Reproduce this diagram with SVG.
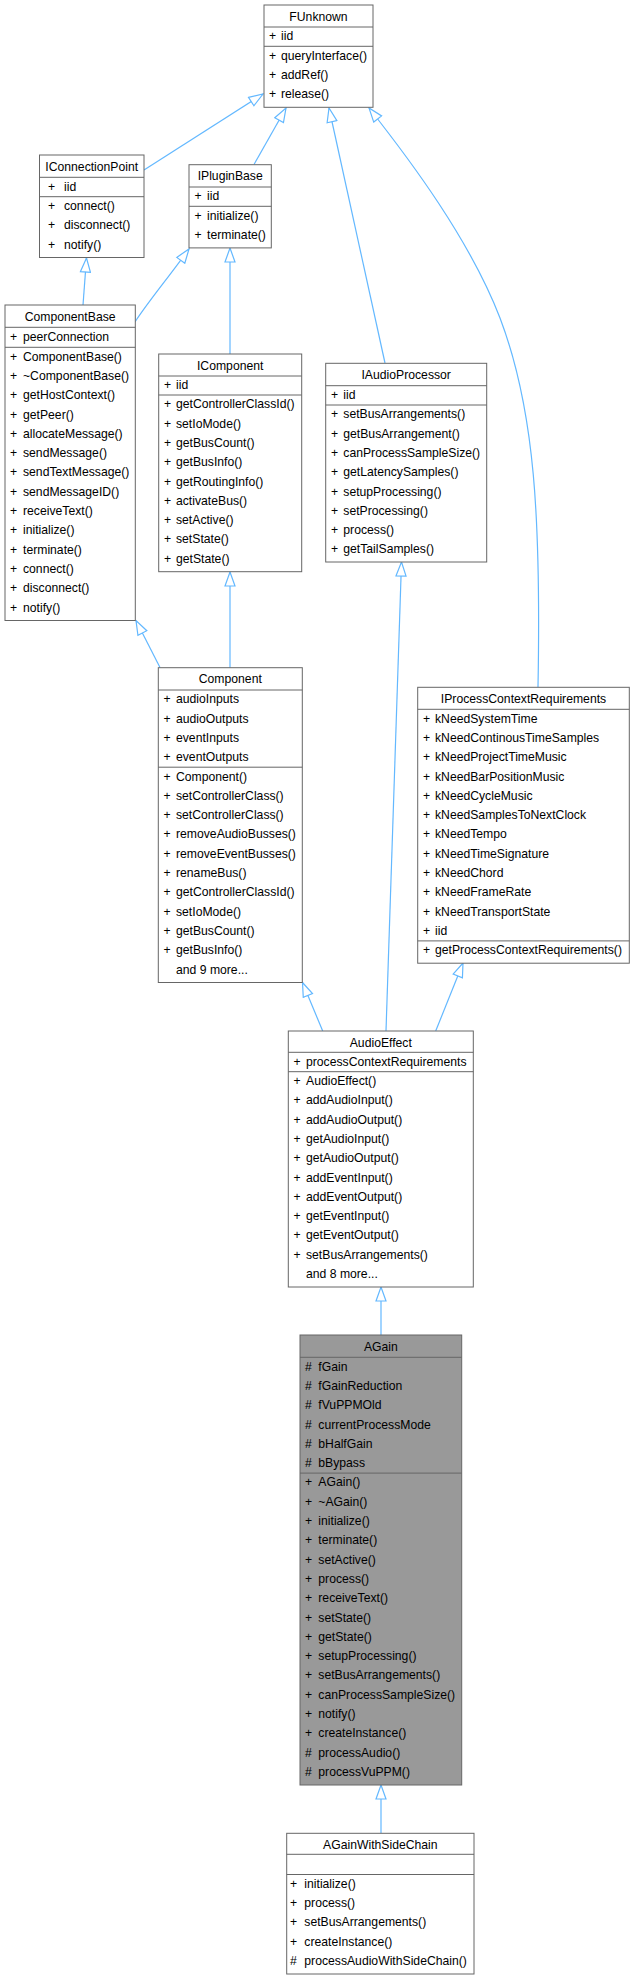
<svg xmlns="http://www.w3.org/2000/svg" width="635" height="1979" viewBox="0 0 635 1979">
<style>
.box{fill:#ffffff;stroke:#666666;stroke-width:1}
.cur{fill:#999999;stroke:#666666;stroke-width:1}
.sep{stroke:#666666;stroke-width:1}
text{font-family:"Liberation Sans",Arial,Helvetica,sans-serif;font-size:12.2px;fill:#000000}
.t{text-anchor:middle}
.edge{fill:none;stroke:#63b8ff;stroke-width:1.2}
</style>
<defs>
<marker id="inh" markerUnits="userSpaceOnUse" markerWidth="16" markerHeight="12" viewBox="0 0 16 12" refX="15" refY="6" orient="auto">
<path d="M1,1 L15,6 L1,11 z" fill="#ffffff" stroke="#63b8ff" stroke-width="1.2"/>
</marker>
</defs>
<rect width="635" height="1979" fill="#ffffff"/>
<g id="connectors">
<path class="edge" d="M144,170 L263,94" marker-end="url(#inh)"/>
<path class="edge" d="M254,164.5 L286,108" marker-end="url(#inh)"/>
<path class="edge" d="M385,363 L329,108" marker-end="url(#inh)"/>
<path class="edge" d="M538,687 C541,520 535,410 500,318 C470,240 410,160 369,108" marker-end="url(#inh)"/>
<path class="edge" d="M83,305 L86.5,258" marker-end="url(#inh)"/>
<path class="edge" d="M135,322 C148,302 165,282 189,249" marker-end="url(#inh)"/>
<path class="edge" d="M230,354 L230,248" marker-end="url(#inh)"/>
<path class="edge" d="M230,667.7 L230,572" marker-end="url(#inh)"/>
<path class="edge" d="M160,667.5 L136,620.5" marker-end="url(#inh)"/>
<path class="edge" d="M322.7,1031 L302.5,982.5" marker-end="url(#inh)"/>
<path class="edge" d="M386,1031 L401.5,562" marker-end="url(#inh)"/>
<path class="edge" d="M435.7,1031 L463,963" marker-end="url(#inh)"/>
<path class="edge" d="M381,1335 L381,1287" marker-end="url(#inh)"/>
<path class="edge" d="M381,1833 L381,1785" marker-end="url(#inh)"/>
</g>
<g id="FUnknown">
<rect class="box" x="264" y="5" width="109" height="102.3"/>
<line class="sep" x1="264" y1="27" x2="373" y2="27"/>
<line class="sep" x1="264" y1="46.3" x2="373" y2="46.3"/>
<text class="t" x="318.5" y="20.7">FUnknown</text>
<text x="269" y="40.3">+</text><text x="281" y="40.3">iid</text>
<text x="269" y="59.6">+</text><text x="281" y="59.6">queryInterface()</text>
<text x="269" y="78.9">+</text><text x="281" y="78.9">addRef()</text>
<text x="269" y="98.2">+</text><text x="281" y="98.2">release()</text>
</g>
<g id="IConnectionPoint">
<rect class="box" x="39.5" y="155" width="104.5" height="102.5"/>
<line class="sep" x1="39.5" y1="177.3" x2="144" y2="177.3"/>
<line class="sep" x1="39.5" y1="196.7" x2="144" y2="196.7"/>
<text class="t" x="91.75" y="170.7">IConnectionPoint</text>
<text x="48" y="190.6">+</text><text x="64" y="190.6">iid</text>
<text x="48" y="210">+</text><text x="64" y="210">connect()</text>
<text x="48" y="229.3">+</text><text x="64" y="229.3">disconnect()</text>
<text x="48" y="248.6">+</text><text x="64" y="248.6">notify()</text>
</g>
<g id="IPluginBase">
<rect class="box" x="189" y="164.7" width="82.3" height="83.2"/>
<line class="sep" x1="189" y1="187" x2="271.3" y2="187"/>
<line class="sep" x1="189" y1="206.3" x2="271.3" y2="206.3"/>
<text class="t" x="230.15" y="180.2">IPluginBase</text>
<text x="194.5" y="200.3">+</text><text x="207" y="200.3">iid</text>
<text x="194.5" y="219.6">+</text><text x="207" y="219.6">initialize()</text>
<text x="194.5" y="238.9">+</text><text x="207" y="238.9">terminate()</text>
</g>
<g id="ComponentBase">
<rect class="box" x="5" y="305" width="130.3" height="315.5"/>
<line class="sep" x1="5" y1="327.3" x2="135.3" y2="327.3"/>
<line class="sep" x1="5" y1="347.3" x2="135.3" y2="347.3"/>
<text class="t" x="70.15" y="320.5">ComponentBase</text>
<text x="10" y="340.6">+</text><text x="23" y="340.6">peerConnection</text>
<text x="10" y="360.6">+</text><text x="23" y="360.6">ComponentBase()</text>
<text x="10" y="379.9">+</text><text x="23" y="379.9">~ComponentBase()</text>
<text x="10" y="399.2">+</text><text x="23" y="399.2">getHostContext()</text>
<text x="10" y="418.5">+</text><text x="23" y="418.5">getPeer()</text>
<text x="10" y="437.8">+</text><text x="23" y="437.8">allocateMessage()</text>
<text x="10" y="457.1">+</text><text x="23" y="457.1">sendMessage()</text>
<text x="10" y="476.4">+</text><text x="23" y="476.4">sendTextMessage()</text>
<text x="10" y="495.7">+</text><text x="23" y="495.7">sendMessageID()</text>
<text x="10" y="515">+</text><text x="23" y="515">receiveText()</text>
<text x="10" y="534.3">+</text><text x="23" y="534.3">initialize()</text>
<text x="10" y="553.6">+</text><text x="23" y="553.6">terminate()</text>
<text x="10" y="572.9">+</text><text x="23" y="572.9">connect()</text>
<text x="10" y="592.2">+</text><text x="23" y="592.2">disconnect()</text>
<text x="10" y="611.5">+</text><text x="23" y="611.5">notify()</text>
</g>
<g id="IComponent">
<rect class="box" x="158.7" y="354" width="143" height="217.7"/>
<line class="sep" x1="158.7" y1="376" x2="301.7" y2="376"/>
<line class="sep" x1="158.7" y1="395" x2="301.7" y2="395"/>
<text class="t" x="230.2" y="369.5">IComponent</text>
<text x="164" y="389.3">+</text><text x="176" y="389.3">iid</text>
<text x="164" y="408.3">+</text><text x="176" y="408.3">getControllerClassId()</text>
<text x="164" y="427.6">+</text><text x="176" y="427.6">setIoMode()</text>
<text x="164" y="446.9">+</text><text x="176" y="446.9">getBusCount()</text>
<text x="164" y="466.2">+</text><text x="176" y="466.2">getBusInfo()</text>
<text x="164" y="485.5">+</text><text x="176" y="485.5">getRoutingInfo()</text>
<text x="164" y="504.8">+</text><text x="176" y="504.8">activateBus()</text>
<text x="164" y="524.1">+</text><text x="176" y="524.1">setActive()</text>
<text x="164" y="543.4">+</text><text x="176" y="543.4">setState()</text>
<text x="164" y="562.7">+</text><text x="176" y="562.7">getState()</text>
</g>
<g id="IAudioProcessor">
<rect class="box" x="325.7" y="363.3" width="161" height="198.7"/>
<line class="sep" x1="325.7" y1="385.7" x2="486.7" y2="385.7"/>
<line class="sep" x1="325.7" y1="405" x2="486.7" y2="405"/>
<text class="t" x="406.2" y="378.8">IAudioProcessor</text>
<text x="331" y="399">+</text><text x="343.3" y="399">iid</text>
<text x="331" y="418.3">+</text><text x="343.3" y="418.3">setBusArrangements()</text>
<text x="331" y="437.6">+</text><text x="343.3" y="437.6">getBusArrangement()</text>
<text x="331" y="456.9">+</text><text x="343.3" y="456.9">canProcessSampleSize()</text>
<text x="331" y="476.2">+</text><text x="343.3" y="476.2">getLatencySamples()</text>
<text x="331" y="495.5">+</text><text x="343.3" y="495.5">setupProcessing()</text>
<text x="331" y="514.8">+</text><text x="343.3" y="514.8">setProcessing()</text>
<text x="331" y="534.1">+</text><text x="343.3" y="534.1">process()</text>
<text x="331" y="553.4">+</text><text x="343.3" y="553.4">getTailSamples()</text>
</g>
<g id="Component">
<rect class="box" x="158.3" y="667.7" width="144" height="314.8"/>
<line class="sep" x1="158.3" y1="690" x2="302.3" y2="690"/>
<line class="sep" x1="158.3" y1="767.2" x2="302.3" y2="767.2"/>
<text class="t" x="230.3" y="683.2">Component</text>
<text x="163.5" y="703.3">+</text><text x="176" y="703.3">audioInputs</text>
<text x="163.5" y="722.6">+</text><text x="176" y="722.6">audioOutputs</text>
<text x="163.5" y="741.9">+</text><text x="176" y="741.9">eventInputs</text>
<text x="163.5" y="761.2">+</text><text x="176" y="761.2">eventOutputs</text>
<text x="163.5" y="780.5">+</text><text x="176" y="780.5">Component()</text>
<text x="163.5" y="799.8">+</text><text x="176" y="799.8">setControllerClass()</text>
<text x="163.5" y="819.1">+</text><text x="176" y="819.1">setControllerClass()</text>
<text x="163.5" y="838.4">+</text><text x="176" y="838.4">removeAudioBusses()</text>
<text x="163.5" y="857.7">+</text><text x="176" y="857.7">removeEventBusses()</text>
<text x="163.5" y="877">+</text><text x="176" y="877">renameBus()</text>
<text x="163.5" y="896.3">+</text><text x="176" y="896.3">getControllerClassId()</text>
<text x="163.5" y="915.6">+</text><text x="176" y="915.6">setIoMode()</text>
<text x="163.5" y="934.9">+</text><text x="176" y="934.9">getBusCount()</text>
<text x="163.5" y="954.2">+</text><text x="176" y="954.2">getBusInfo()</text>
<text x="176" y="973.5">and 9 more...</text>
</g>
<g id="IProcessContextRequirements">
<rect class="box" x="417.7" y="687.3" width="211.6" height="275.9"/>
<line class="sep" x1="417.7" y1="709.3" x2="629.3" y2="709.3"/>
<line class="sep" x1="417.7" y1="940.9" x2="629.3" y2="940.9"/>
<text class="t" x="523.5" y="702.8">IProcessContextRequirements</text>
<text x="423" y="722.6">+</text><text x="435" y="722.6">kNeedSystemTime</text>
<text x="423" y="741.9">+</text><text x="435" y="741.9">kNeedContinousTimeSamples</text>
<text x="423" y="761.2">+</text><text x="435" y="761.2">kNeedProjectTimeMusic</text>
<text x="423" y="780.5">+</text><text x="435" y="780.5">kNeedBarPositionMusic</text>
<text x="423" y="799.8">+</text><text x="435" y="799.8">kNeedCycleMusic</text>
<text x="423" y="819.1">+</text><text x="435" y="819.1">kNeedSamplesToNextClock</text>
<text x="423" y="838.4">+</text><text x="435" y="838.4">kNeedTempo</text>
<text x="423" y="857.7">+</text><text x="435" y="857.7">kNeedTimeSignature</text>
<text x="423" y="877">+</text><text x="435" y="877">kNeedChord</text>
<text x="423" y="896.3">+</text><text x="435" y="896.3">kNeedFrameRate</text>
<text x="423" y="915.6">+</text><text x="435" y="915.6">kNeedTransportState</text>
<text x="423" y="934.9">+</text><text x="435" y="934.9">iid</text>
<text x="423" y="954.2">+</text><text x="435" y="954.2">getProcessContextRequirements()</text>
</g>
<g id="AudioEffect">
<rect class="box" x="288.3" y="1031" width="185" height="256"/>
<line class="sep" x1="288.3" y1="1052.3" x2="473.3" y2="1052.3"/>
<line class="sep" x1="288.3" y1="1071.7" x2="473.3" y2="1071.7"/>
<text class="t" x="380.8" y="1046.5">AudioEffect</text>
<text x="293.5" y="1065.6">+</text><text x="306" y="1065.6">processContextRequirements</text>
<text x="293.5" y="1085">+</text><text x="306" y="1085">AudioEffect()</text>
<text x="293.5" y="1104.3">+</text><text x="306" y="1104.3">addAudioInput()</text>
<text x="293.5" y="1123.6">+</text><text x="306" y="1123.6">addAudioOutput()</text>
<text x="293.5" y="1142.9">+</text><text x="306" y="1142.9">getAudioInput()</text>
<text x="293.5" y="1162.2">+</text><text x="306" y="1162.2">getAudioOutput()</text>
<text x="293.5" y="1181.5">+</text><text x="306" y="1181.5">addEventInput()</text>
<text x="293.5" y="1200.8">+</text><text x="306" y="1200.8">addEventOutput()</text>
<text x="293.5" y="1220.1">+</text><text x="306" y="1220.1">getEventInput()</text>
<text x="293.5" y="1239.4">+</text><text x="306" y="1239.4">getEventOutput()</text>
<text x="293.5" y="1258.7">+</text><text x="306" y="1258.7">setBusArrangements()</text>
<text x="306" y="1278">and 8 more...</text>
</g>
<g id="AGain">
<rect class="cur" x="300" y="1335" width="161.7" height="450"/>
<line class="sep" x1="300" y1="1357.3" x2="461.7" y2="1357.3"/>
<line class="sep" x1="300" y1="1473.1" x2="461.7" y2="1473.1"/>
<text class="t" x="380.85" y="1350.5">AGain</text>
<text x="305" y="1370.6">#</text><text x="318.3" y="1370.6">fGain</text>
<text x="305" y="1389.9">#</text><text x="318.3" y="1389.9">fGainReduction</text>
<text x="305" y="1409.2">#</text><text x="318.3" y="1409.2">fVuPPMOld</text>
<text x="305" y="1428.5">#</text><text x="318.3" y="1428.5">currentProcessMode</text>
<text x="305" y="1447.8">#</text><text x="318.3" y="1447.8">bHalfGain</text>
<text x="305" y="1467.1">#</text><text x="318.3" y="1467.1">bBypass</text>
<text x="305" y="1486.4">+</text><text x="318.3" y="1486.4">AGain()</text>
<text x="305" y="1505.7">+</text><text x="318.3" y="1505.7">~AGain()</text>
<text x="305" y="1525">+</text><text x="318.3" y="1525">initialize()</text>
<text x="305" y="1544.3">+</text><text x="318.3" y="1544.3">terminate()</text>
<text x="305" y="1563.6">+</text><text x="318.3" y="1563.6">setActive()</text>
<text x="305" y="1582.9">+</text><text x="318.3" y="1582.9">process()</text>
<text x="305" y="1602.2">+</text><text x="318.3" y="1602.2">receiveText()</text>
<text x="305" y="1621.5">+</text><text x="318.3" y="1621.5">setState()</text>
<text x="305" y="1640.8">+</text><text x="318.3" y="1640.8">getState()</text>
<text x="305" y="1660.1">+</text><text x="318.3" y="1660.1">setupProcessing()</text>
<text x="305" y="1679.4">+</text><text x="318.3" y="1679.4">setBusArrangements()</text>
<text x="305" y="1698.7">+</text><text x="318.3" y="1698.7">canProcessSampleSize()</text>
<text x="305" y="1718">+</text><text x="318.3" y="1718">notify()</text>
<text x="305" y="1737.3">+</text><text x="318.3" y="1737.3">createInstance()</text>
<text x="305" y="1756.6">#</text><text x="318.3" y="1756.6">processAudio()</text>
<text x="305" y="1775.9">#</text><text x="318.3" y="1775.9">processVuPPM()</text>
</g>
<g id="AGainWithSideChain">
<rect class="box" x="286.7" y="1833.3" width="187.3" height="140.7"/>
<line class="sep" x1="286.7" y1="1854.3" x2="474" y2="1854.3"/>
<line class="sep" x1="286.7" y1="1874.5" x2="474" y2="1874.5"/>
<text class="t" x="380.35" y="1848.8">AGainWithSideChain</text>
<text x="290" y="1887.8">+</text><text x="304.3" y="1887.8">initialize()</text>
<text x="290" y="1907.1">+</text><text x="304.3" y="1907.1">process()</text>
<text x="290" y="1926.4">+</text><text x="304.3" y="1926.4">setBusArrangements()</text>
<text x="290" y="1945.7">+</text><text x="304.3" y="1945.7">createInstance()</text>
<text x="290" y="1965">#</text><text x="304.3" y="1965">processAudioWithSideChain()</text>
</g>
</svg>
